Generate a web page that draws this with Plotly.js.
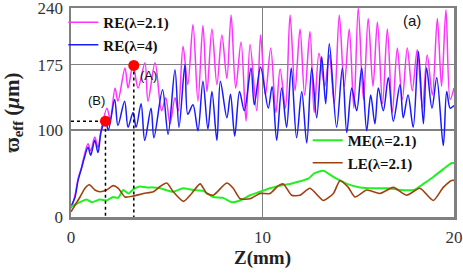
<!DOCTYPE html>
<html><head><meta charset="utf-8">
<script src="https://cdn.plot.ly/plotly-3.0.1.min.js"></script>
<style>html,body{margin:0;padding:0;background:#fff}</style>
</head><body><div id="chart" style="width:463px;height:273px"></div>
<script>
// RE(λ=2.1) magenta
const reMagX = [0,0.2,0.37,0.55,0.71,0.89,1.03,1.24,1.41,1.58,1.88,2.05,2.3,2.45,2.82,2.98,3.24,3.5,3.86,4.02,4.39,4.73,4.95,5.17,5.43,5.6,5.85,6.1,6.37,6.63,6.89,7.1,7.36,7.62,7.88,8.14,8.36,8.6,8.88,9.14,9.35,9.7,9.9,10.15,10.43,10.7,10.92,11.2,11.44,11.7,11.96,12.2,12.48,12.7,12.95,13.25,13.49,13.75,14.01,14.27,14.53,14.77,15.0,15.27,15.52,15.77,16.0,16.27,16.52,16.78,17.04,17.3,17.56,17.82,18.08,18.35,18.6,18.87,19.13,19.35,19.58,19.8,20];
const reMagY = [10,24,44,57,72,84,76,92,80,101,125,112,148,133,171,148,175,148,177,133,177,122,137,107,137,122,196,152,221,133,220,144,216,152,209,159,232,148,201,110,198,122,209,140,194,120,170,125,232,145,216,140,213,120,188,150,186,130,232,150,216,125,240,135,228,150,224,130,216,120,194,135,194,145,192,125,186,140,228,150,238,135,148];
// RE(λ=4) blue
const reBluX = [0,0.2,0.37,0.55,0.71,0.89,1.03,1.24,1.41,1.58,1.8,1.95,2.28,2.45,2.8,2.98,3.24,3.4,3.66,3.85,4.18,4.33,4.78,5.07,5.43,5.64,5.95,6.1,6.37,6.63,6.89,7.15,7.36,7.62,7.8,8.14,8.33,8.55,8.8,9.05,9.4,9.57,9.9,10.3,10.5,10.74,11.0,11.26,11.5,11.78,12.05,12.31,12.57,12.83,13.09,13.3,13.49,13.87,14.17,14.4,14.66,14.92,15.18,15.44,15.65,15.87,16.05,16.31,16.57,16.83,17.18,17.35,17.6,17.87,18.14,18.4,18.57,18.85,19.1,19.44,19.62,19.8,20];
const reBluY = [12,22,42,56,69,80,71,88,74,99,110,100,135,105,133,103,120,103,130,88,125,91,146,95,169,103,175,118,129,99,156,101,144,88,156,114,141,93,144,122,171,129,172,125,150,88,148,103,171,91,144,85,171,114,184,130,199,103,171,97,148,122,171,99,140,107,148,122,160,110,152,114,140,103,190,107,171,125,160,82,144,125,128];
// ME(λ=2.1) green
const meX = [0,0.47,0.82,1.08,1.51,1.86,2.2,2.46,2.73,3.0,3.26,3.6,3.95,4.3,4.65,5.33,5.85,6.37,6.9,7.42,7.94,8.39,8.83,9.35,9.87,10.39,10.91,11.44,11.96,12.39,12.7,13.17,13.7,14.4,15.1,15.8,16.5,17.2,17.9,18.4,18.92,19.44,19.88,20];
const meY = [12,17,20,17,20,19,23,22,31,27,32,35,34,34,33,29,33,31,30,23,22,17,19,25,29,33,36,38,41,44,50,53,46,38,34,33,33,31,31,38,46,55,62,62];
// LE(λ=2.1) brown
const leX = [0,0.47,0.73,0.96,1.25,1.51,1.86,2.2,2.47,2.82,3.25,3.78,4.3,4.65,5.0,5.34,5.87,6.3,6.74,7.1,7.43,8.13,8.47,8.83,9.35,9.87,10.39,10.83,11.09,11.52,11.96,12.48,13.17,13.7,14.05,14.48,14.83,15.44,16.14,16.83,17.53,18.22,18.92,19.44,19.88,20];
const leY = [6,23,33,37,31,29,31,36,33,23,24,27,29,35,39,29,18,27,38,27,25,39,33,21,21,27,27,36,38,25,25,33,19,27,42,34,23,31,27,34,25,33,19,34,42,42];
// marked points
const markX = [1.8,3.28];
const markY = [110,174];
const markLabels = ['(B)','(A)'];
const xTicks = [0,10,20];
const yTicks = [0,100,175,240];

const serif = 'Liberation Serif';
const sans = 'Liberation Sans';
const traces = [
  {x:reMagX,y:reMagY,mode:'lines',name:'RE(λ=2.1)',line:{color:'#ff33ff',width:1.5,shape:'spline',smoothing:0.9},legend:'legend',legendgroup:'a'},
  {x:reBluX,y:reBluY,mode:'lines',name:'RE(λ=4)',line:{color:'#1a1aff',width:1.5,shape:'spline',smoothing:0.9},legend:'legend',legendgroup:'b'},
  {x:meX,y:meY,mode:'lines',name:'ME(λ=2.1)',line:{color:'#22f022',width:2,shape:'spline',smoothing:0.6},legend:'legend2',legendgroup:'c'},
  {x:leX,y:leY,mode:'lines',name:'LE(λ=2.1)',line:{color:'#a0400f',width:1.6,shape:'spline',smoothing:0.6},legend:'legend2',legendgroup:'d'},
  {x:[0,markX[0],markX[0]],y:[markY[0],markY[0],0],mode:'lines',line:{color:'#000',width:1.5,dash:'dot'},showlegend:false},
  {x:[markX[1],markX[1]],y:[markY[1],0],mode:'lines',line:{color:'#000',width:1.5,dash:'dot'},showlegend:false},
  {x:markX,y:markY,mode:'markers',marker:{color:'#ff0000',size:11},showlegend:false}
];
const layout = {
  width:463,height:273,
  margin:{l:71,r:9,t:6,b:56},
  font:{family:serif,color:'#222'},
  paper_bgcolor:'#fff',plot_bgcolor:'#fff',
  showlegend:true,
  xaxis:{range:[0,20],tickvals:xTicks,ticktext:xTicks.map(String),showline:true,mirror:true,linecolor:'#808080',linewidth:2.5,
    showgrid:true,gridcolor:'#808080',gridwidth:1.5,zeroline:false,ticks:'',ticklabeloverflow:'allow',ticklabelstandoff:3,
    tickfont:{family:serif,size:17,color:'#333'},
    title:{text:'<b>Z(mm)</b>',font:{family:serif,size:19,color:'#222'},standoff:4}},
  yaxis:{range:[0,240],tickvals:yTicks,ticktext:yTicks.map(String),showline:true,mirror:true,linecolor:'#808080',linewidth:2.5,
    showgrid:true,gridcolor:'#808080',gridwidth:1.5,zeroline:false,ticks:'',ticklabeloverflow:'allow',ticklabelstandoff:2,
    tickfont:{family:serif,size:17,color:'#333'},
    title:{text:'<b>ϖ<sub>eff</sub> (<i>μ</i>m)</b>',font:{family:serif,size:21,color:'#222'},standoff:13}},
  legend:{x:-0.02,y:1.01,xanchor:'left',yanchor:'top',bgcolor:'rgba(0,0,0,0)',font:{family:serif,size:15,color:'#111',weight:'bold'},
    itemwidth:30,tracegroupgap:0,traceorder:'grouped'},
  legend2:{x:0.618,y:0.445,xanchor:'left',yanchor:'top',bgcolor:'rgba(0,0,0,0)',font:{family:serif,size:15,color:'#111',weight:'bold'},
    itemwidth:30,tracegroupgap:0,traceorder:'grouped'},
  annotations:[
    {x:markX[0],y:markY[0],xref:'x',yref:'y',text:markLabels[0],showarrow:false,xanchor:'right',yanchor:'bottom',xshift:2,yshift:11,font:{family:sans,size:13,color:'#111'}},
    {x:markX[1],y:markY[1],xref:'x',yref:'y',text:markLabels[1],showarrow:false,xanchor:'left',yanchor:'top',xshift:4,yshift:-1,font:{family:sans,size:13,color:'#111'}},
    {x:17.8,y:226,xref:'x',yref:'y',text:'(a)',showarrow:false,font:{family:sans,size:15,color:'#111'}}
  ]
};
Plotly.newPlot('chart',traces,layout,{displayModeBar:false,staticPlot:true});
</script></body></html>
